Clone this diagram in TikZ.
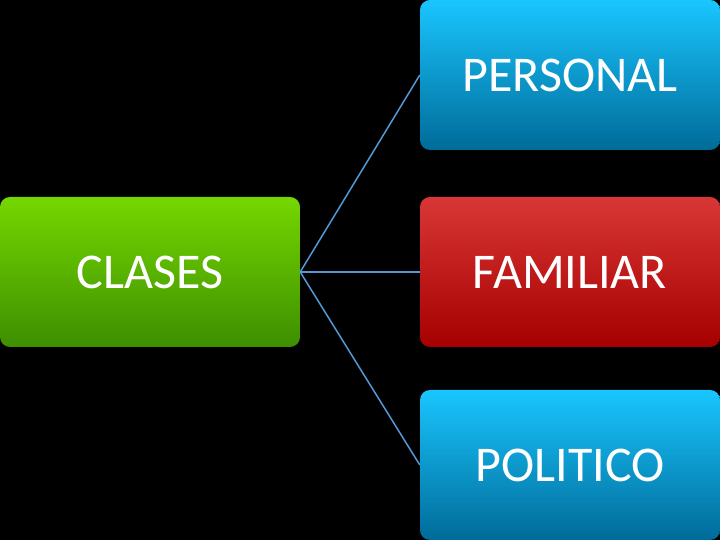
\documentclass[tikz,border=0pt]{standalone}
\usepackage{fontspec}
\setmainfont{Carlito}
\begin{document}
\begin{tikzpicture}[x=1pt,y=1pt,
  box/.style={rounded corners=10pt,minimum width=300pt,minimum height=150pt,inner sep=0pt,text=white,font=\fontsize{50}{60}\selectfont},
  conn/.style={draw=cyan!60!blue!70!white,line width=1.5pt}]
\useasboundingbox[fill=black] (0,0) rectangle (720,540);
\node[box,top color=green!55!olive!70!yellow,bottom color=green!40!olive!80!black] (c) at (150,268) {CLASES};
\node[box,top color=cyan!75!blue!90!white,bottom color=cyan!70!blue!60!black] (p) at (570,465) {PERSONAL};
\node[box,top color=red!75!white!85!black,bottom color=red!65!black] (f) at (570,268) {FAMILIAR};
\node[box,top color=cyan!75!blue!90!white,bottom color=cyan!70!blue!60!black] (o) at (570,75) {POLITICO};
\draw[conn] (c.east) -- (p.west);
\draw[conn] (c.east) -- (f.west);
\draw[conn] (c.east) -- (o.west);
\end{tikzpicture}
\end{document}
